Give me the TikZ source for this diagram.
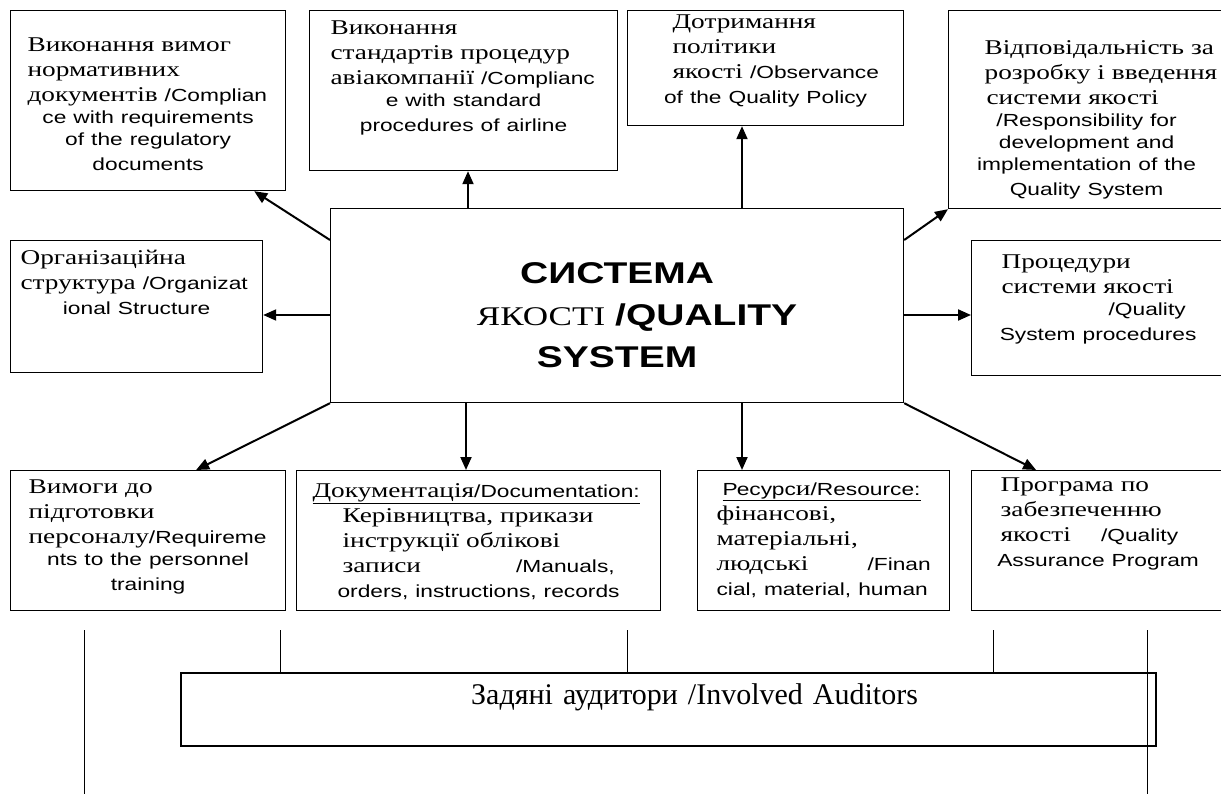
\documentclass[tikz,border=0pt]{standalone}
\usepackage{fontspec}
\setmainfont{Liberation Serif}[FakeStretch=1.3]
\setsansfont{Liberation Sans}[FakeStretch=1.3]
\newfontfamily\tallserif{Liberation Serif}
\usetikzlibrary{arrows.meta}
\newcommand{\eng}{\sffamily\fontsize{17.5}{22}\selectfont}
\newcommand{\centred}[1]{\makebox[\linewidth]{#1}}

\begin{document}
\begin{tikzpicture}[x=1pt,y=-1pt,
    panel/.style={draw,line width=1.2pt,anchor=north west,align=left,
      inner xsep=10pt,inner ysep=0pt,font=\fontsize{21}{25}\selectfont},
    arr/.style={line width=2pt,-{Triangle[length=13pt,width=11pt]}},
    link/.style={line width=1pt}]
    \useasboundingbox (0,0) rectangle (1221,794);
    \fill[white] (0,0) rectangle (1221,794);
    % central box
    \node[panel,align=center,text width=553pt,text height=75pt,text depth=119pt,
      font=\sffamily\bfseries\fontsize{30}{42}\selectfont] (qs) at (330,208)
      {СИСТЕМА\\ \hspace*{40pt}{\rmfamily\mdseries\fontsize{27}{42}\selectfont ЯКОСТІ} /QUALITY\\ SYSTEM};
    % upper row
    \node[panel,text width=255pt,text height=41pt,text depth=139pt] (norm) at (10,10)
      {\hspace*{7pt}Виконання~вимог\\ \hspace*{7pt}нормативних\\
       \hspace*{7pt}документів~{\eng/Complian}\\ \eng\centred{ce with requirements}\\
       \eng\centred{of the regulatory}\\ \eng\centred{documents}};
    \node[panel,text width=288pt,text height=24pt,text depth=136pt] (std) at (309,10)
      {\hspace*{11pt}Виконання\\ \hspace*{11pt}стандартів~процедур\\
       \hspace*{11pt}авіакомпанії~{\eng/Complianc}\\ \eng\centred{e with standard}\\
       \eng\centred{procedures of airline}};
    \node[panel,text width=256pt,text height=18pt,text depth=97pt] (pol) at (627,10)
      {\hspace*{35pt}Дотримання\\ \hspace*{35pt}політики\\
       \hspace*{35pt}якості~{\eng/Observance}\\ \eng\centred{of the Quality Policy}};
    \node[panel,text width=256pt,text height=44pt,text depth=154pt] (resp) at (948,10)
      {\hspace*{26pt}Відповідальність~за\\ \hspace*{26pt}розробку~і~введення\\
       \hspace*{28pt}системи~якості\\ \eng\centred{/Responsibility for}\\
       \eng\centred{development and}\\ \eng\centred{implementation of the}\\
       \eng\centred{Quality System}};
    % middle row
    \node[panel,text width=232pt,text height=24pt,text depth=108pt] (org) at (10,240)
      {Організаційна\\ структура~{\eng/Organizat}\\ \eng\centred{ional Structure}};
    \node[panel,text width=233pt,text height=28pt,text depth=107pt] (proc) at (971,240)
      {\hspace*{20pt}Процедури\\ \hspace*{20pt}системи~якості\\
       \eng\hspace*{127pt}/Quality\\ \eng\centred{System procedures}};
    % lower row
    \node[panel,text width=255pt,text height=23pt,text depth=117pt] (train) at (10,470)
      {\hspace*{8pt}Вимоги~до\\ \hspace*{8pt}підготовки\\
       \hspace*{8pt}персоналу{\eng/Requireme}\\ \eng\centred{nts to the personnel}\\
       \eng\centred{training}};
    \node[panel,text width=344pt,text height=27pt,text depth=113pt] (docs) at (296,470)
      {\hspace*{6pt}\underline{Документація{\eng/Documentation:}}\\
       \hspace*{36pt}Керівництва,~прикази\\ \hspace*{36pt}інструкції~облікові\\
       \hspace*{36pt}записи\hspace{95pt}{\eng/Manuals,}\\
       \eng\centred{orders, instructions, records}};
    \node[panel,text width=232pt,text height=25pt,text depth=115pt] (res) at (697,470)
      {\hspace*{15pt}\underline{{\eng Ресурс}и{\eng/Resource:}}\\ \hspace*{9pt}фінансові,\\
       \hspace*{9pt}матеріальні,\\ \hspace*{9pt}людські\hspace{59pt}{\eng/Finan}\\
       \eng\hspace*{9pt}cial, material, human};
    \node[panel,text width=233pt,text height=21pt,text depth=119pt] (prog) at (971,470)
      {\hspace*{19pt}Програма~по\\ \hspace*{19pt}забезпеченню\\
       \hspace*{19pt}якості\hspace{30pt}{\eng/Quality}\\ \eng\centred{Assurance Program}};
    % auditors
    \node[panel,line width=2.4pt,text width=955pt,text height=31pt,text depth=42pt,
      font=\tallserif\fontsize{30}{36}\selectfont] (aud) at (180,672)
      {\hspace*{280pt}Задяні аудитори /Involved Auditors};
    % arrows
    \draw[arr] ([yshift=-32pt]qs.north west) -- ([xshift=-32pt]norm.south east);
    \draw[arr] (qs.north -| 468,0) -- (std.south -| 468,0);
    \draw[arr] (qs.north -| 742,0) -- (pol.south -| 742,0);
    \draw[arr] ([yshift=-32pt]qs.north east) -- (resp.south west);
    \draw[arr] (qs.west |- 0,315) -- (org.east |- 0,315);
    \draw[arr] (qs.east |- 0,315) -- (proc.west |- 0,315);
    \draw[arr] (qs.south west) -- ([xshift=48pt]train.north);
    \draw[arr] (qs.south -| 466,0) -- (docs.north -| 466,0);
    \draw[arr] (qs.south -| 742,0) -- (res.north -| 742,0);
    \draw[arr] (qs.south east) -- ([xshift=-62pt]prog.north);
    % auditor lines
    \draw[link] (84,630) -- (84,794);
    \draw[link] (1147,630) -- (1147,794);
    \foreach \x in {280,627,993}
      \draw[link] (\x,630) -- (aud.north -| \x,0);
\end{tikzpicture}
\end{document}
